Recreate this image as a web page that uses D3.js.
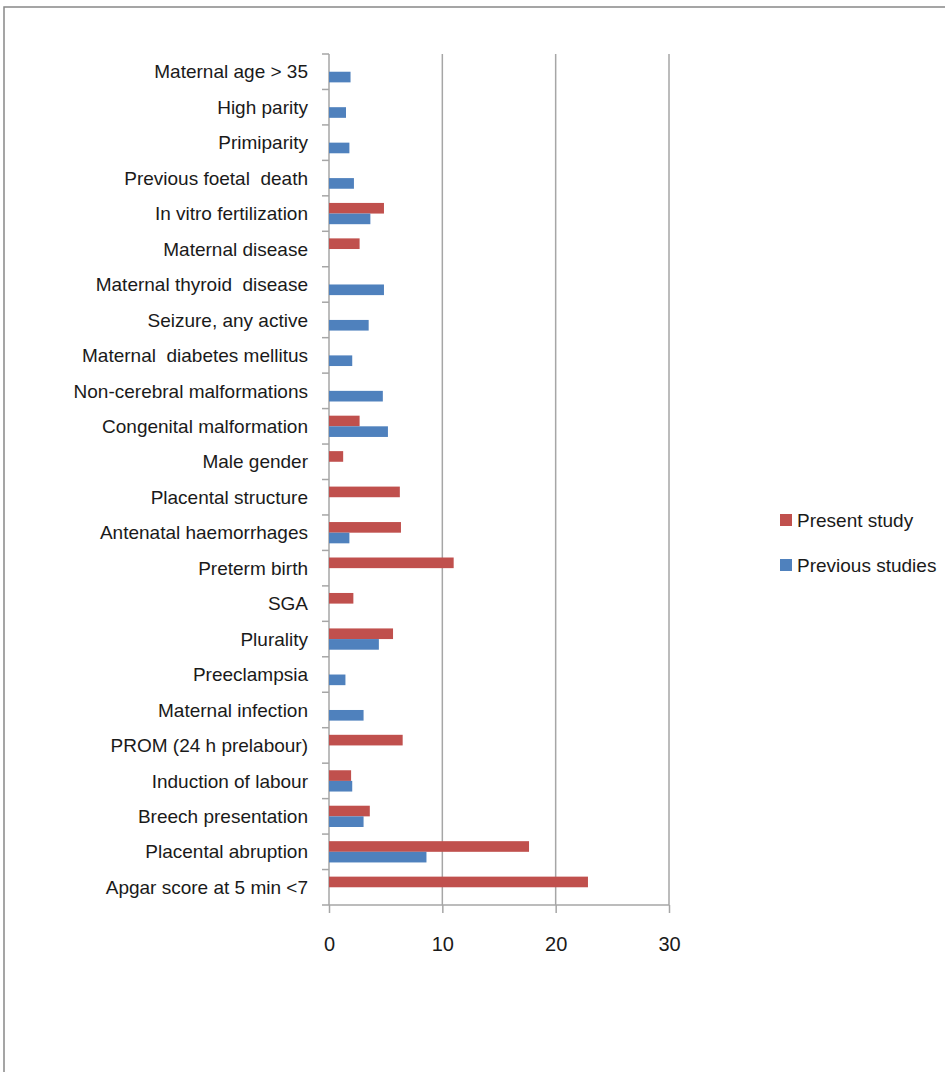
<!DOCTYPE html>
<meta charset="utf-8">
<script src="https://d3js.org/d3.v7.min.js"></script>
<style>
  body { margin: 0; background: #fff; }
  text { font-family: "Liberation Sans", Arial, sans-serif; fill: #1a1a1a; }
</style>
<div id="chart"></div>
<script>
  // categories, top to bottom
  var categories = [
    "Maternal age > 35", "High parity", "Primiparity", "Previous foetal  death",
    "In vitro fertilization", "Maternal disease", "Maternal thyroid  disease",
    "Seizure, any active", "Maternal  diabetes mellitus", "Non-cerebral malformations",
    "Congenital malformation", "Male gender", "Placental structure",
    "Antenatal haemorrhages", "Preterm birth", "SGA", "Plurality", "Preeclampsia",
    "Maternal infection", "PROM (24 h prelabour)", "Induction of labour",
    "Breech presentation", "Placental abruption", "Apgar score at 5 min <7"
  ];
  // null = no bar
  var presentStudy = [
    null, null, null, null, 4.85, 2.7, null, null, null, null, 2.7, 1.25, 6.25,
    6.35, 11.0, 2.15, 5.65, null, null, 6.5, 1.95, 3.6, 17.65, 22.85
  ];
  var previousStudies = [
    1.9, 1.5, 1.8, 2.2, 3.65, null, 4.85, 3.5, 2.05, 4.75, 5.2, null, null,
    1.8, null, null, 4.4, 1.45, 3.05, null, 2.05, 3.05, 8.6, null
  ];
  var seriesNames = ["Present study", "Previous studies"];
  var seriesColors = ["#c0504d", "#4f81bd"];
  var xTicks = [0, 10, 20, 30];

  var W = 945, H = 1072;
  var svg = d3.select("#chart").append("svg")
    .attr("width", W).attr("height", H);

  // outer chart border
  svg.append("rect")
    .attr("x", 4).attr("y", 7).attr("width", 1000).attr("height", 1100)
    .attr("fill", "none").attr("stroke", "#888").attr("stroke-width", 1.5);

  var x = d3.scaleLinear().domain([0, 30]).range([329, 669]);
  var y = d3.scaleBand().domain(categories).range([54, 905]).padding(0);
  var sub = d3.scaleBand().domain(seriesNames)
    .range([y.bandwidth() * 0.2, y.bandwidth() * 0.8]);

  // gridlines
  svg.append("g").selectAll("line")
    .data(xTicks.slice(1))
    .join("line")
    .attr("x1", function(d) { return x(d); }).attr("x2", function(d) { return x(d); })
    .attr("y1", 54).attr("y2", 905)
    .attr("stroke", "#a6a6a6").attr("stroke-width", 1.5);

  // x axis
  var xAxis = svg.append("g")
    .attr("transform", "translate(0,905)")
    .call(d3.axisBottom(x).tickValues(xTicks).tickSize(8).tickPadding(24));
  xAxis.select(".domain").remove();
  xAxis.selectAll(".tick line").attr("stroke", "#a6a6a6").attr("stroke-width", 1.5);
  xAxis.selectAll(".tick text")
    .style("font-family", "'Liberation Sans', Arial, sans-serif")
    .style("font-size", "20px").attr("fill", "#1a1a1a");
  svg.append("line")
    .attr("x1", 322).attr("x2", x(30)).attr("y1", 905).attr("y2", 905)
    .attr("stroke", "#a6a6a6").attr("stroke-width", 1.5);

  // y axis line and category ticks
  svg.append("line")
    .attr("x1", x(0)).attr("x2", x(0)).attr("y1", 54).attr("y2", 905)
    .attr("stroke", "#a6a6a6").attr("stroke-width", 1.5);
  svg.append("g").selectAll("line")
    .data(categories)
    .join("line")
    .attr("x1", 322).attr("x2", x(0))
    .attr("y1", function(d) { return y(d); }).attr("y2", function(d) { return y(d); })
    .attr("stroke", "#a6a6a6").attr("stroke-width", 1.5);

  // category labels
  svg.append("g").selectAll("text")
    .data(categories)
    .join("text")
    .attr("x", 308)
    .attr("y", function(d) { return y(d) + y.bandwidth() / 2; })
    .attr("dy", "0.35em")
    .attr("text-anchor", "end")
    .style("font-size", "19px")
    .style("white-space", "pre")
    .text(function(d) { return d; });

  // bars
  var rows = categories.map(function(c, i) {
    return [
      { cat: c, s: seriesNames[0], v: presentStudy[i], col: seriesColors[0] },
      { cat: c, s: seriesNames[1], v: previousStudies[i], col: seriesColors[1] }
    ];
  });
  svg.append("g").selectAll("rect")
    .data(d3.merge(rows).filter(function(d) { return d.v != null; }))
    .join("rect")
    .attr("x", x(0))
    .attr("y", function(d) { return y(d.cat) + sub(d.s); })
    .attr("width", function(d) { return x(d.v) - x(0); })
    .attr("height", sub.bandwidth())
    .attr("fill", function(d) { return d.col; });

  // legend
  var leg = svg.append("g").selectAll("g")
    .data(seriesNames)
    .join("g")
    .attr("transform", function(d, i) { return "translate(780," + (514 + i * 45) + ")"; });
  leg.append("rect")
    .attr("width", 12).attr("height", 12)
    .attr("fill", function(d, i) { return seriesColors[i]; });
  leg.append("text")
    .attr("x", 17).attr("y", 6).attr("dy", "0.35em")
    .style("font-size", "19px")
    .text(function(d) { return d; });
</script>
